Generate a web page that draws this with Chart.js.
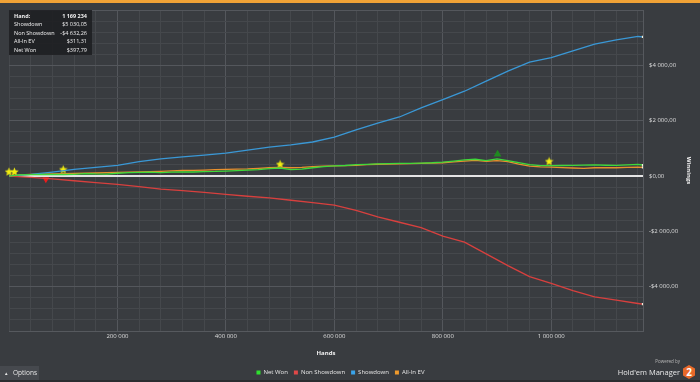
<!DOCTYPE html>
<html>
<head>
<meta charset="utf-8">
<script src="https://cdn.jsdelivr.net/npm/chart.js@4.4.1/dist/chart.umd.min.js"></script>
<style>
html,body{margin:0;padding:0;background:#393c40;overflow:hidden}
#wrap{position:relative;width:700px;height:382px;background:#393c40;font-family:"Open Sans",sans-serif}
#topbar{position:absolute;left:0;top:0;width:700px;height:3px;background:#f0a236}
#botbar{position:absolute;left:0;top:380px;width:700px;height:2px;background:#2b2d30}
#c{position:absolute;left:0;top:0}
#tip{position:absolute;left:9px;top:10px;width:83px;height:45px;background:rgba(30,31,34,0.9);color:#f0f0f0;font-size:5.5px}
#tip .row{position:absolute;left:5px;right:5px;height:9px;line-height:9px;white-space:nowrap}
#tip .row b{font-weight:700}
#tip .v{position:absolute;right:0;top:0}
#opt{position:absolute;left:0;top:366px;width:39px;height:14px;background:#46494e;color:#e6e6e6;font-size:6.5px;line-height:14px}
#opt .a{position:absolute;left:4px;font-size:4.5px}
#opt .t{position:absolute;left:13px}
#pw{position:absolute;left:640px;top:358px;width:40px;text-align:right;color:#b8b8b8;font-size:4.5px;line-height:6px}
#hm{position:absolute;left:600px;top:366px;width:80px;text-align:right;color:#e8e8e8;font-size:7.5px;line-height:12px}
#hex{position:absolute;left:683px;top:365px;width:12px;height:14px;background:#e8692a;color:#fff;font-weight:700;font-size:10px;line-height:14px;text-align:center;clip-path:polygon(50% 0,100% 25%,100% 75%,50% 100%,0 75%,0 25%)}
</style>
</head>
<body>
<div id="wrap">
<canvas id="c" width="700" height="382"></canvas>
<div id="topbar"></div>
<div id="botbar"></div>
<div id="tip"></div>
<div id="opt"><span class="a">&#9650;</span><span class="t">Options</span></div>
<div id="pw">Powered by</div>
<div id="hm">Hold'em Manager</div>
<div id="hex">2</div>
</div>
<script>
// ---- data ----
// Showdown / Non Showdown read every 40 000 hands
const handsCoarse = [0,40000,80000,120000,160000,200000,240000,280000,320000,360000,400000,440000,480000,520000,560000,600000,640000,680000,720000,760000,800000,840000,880000,920000,960000,1000000,1040000,1080000,1120000,1160000,1169234];
const showdown    = [0,60,145,240,313,385,520,618,690,752,825,934,1043,1127,1230,1407,1672,1916,2134,2461,2763,3065,3429,3792,4119,4279,4520,4763,4920,5043,5030.05];
const nonShowdown = [0,-45,-105,-170,-235,-300,-385,-470,-530,-590,-660,-730,-790,-875,-960,-1055,-1240,-1478,-1670,-1866,-2170,-2388,-2812,-3236,-3636,-3878,-4145,-4363,-4484,-4606,-4632.26];
// Net Won / All-In EV read every 20 000 hands
const handsFine = [0,20000,40000,60000,80000,100000,120000,140000,160000,180000,200000,220000,240000,260000,280000,300000,320000,340000,360000,380000,400000,420000,440000,460000,480000,500000,520000,540000,560000,580000,600000,620000,640000,660000,680000,700000,720000,740000,760000,780000,800000,820000,840000,860000,880000,900000,920000,940000,960000,980000,1000000,1020000,1040000,1060000,1080000,1100000,1120000,1140000,1160000,1169234];
const netWon   = [0,40,50,55,60,55,60,90,75,70,100,120,130,140,120,140,150,145,160,165,180,195,210,230,270,290,230,250,300,340,364,380,410,420,436,445,460,455,470,480,500,540,582,607,556,618,556,485,410,375,375,380,385,395,400,390,385,405,420,397.79];
const allInEV  = [0,45,60,70,80,85,95,100,110,120,130,140,150,160,170,185,200,205,215,230,240,250,260,280,300,310,300,310,340,360,370,375,385,410,425,430,440,445,455,465,480,510,540,565,530,560,520,430,360,330,320,305,290,280,300,305,300,310,320,311.31];
const seriesNames = ["Net Won","Non Showdown","Showdown","All-In EV"];
const starHands = [0,10000,100000,500000,996000];
const starValues = [170,170,250,440,545];
const downHands = [68000];
const downValues = [-120];
const upHands = [901000];
const upValues = [790];
const totalHands = 1169234;
const xTickStep = 40000, xLabelStep = 200000;
const yMin = -5600, yMax = 6000, yTickStep = 400, yLabelStep = 2000;

// ---- helpers ----
function grp(n){return String(n).replace(/\B(?=(\d{3})+(?!\d))/g,' ');}
function money(v){const a=Math.abs(v);const p=a.toFixed(2).split('.');return (v<0?'-':'')+'$'+grp(p[0])+','+p[1];}
function pts(xs,ys){return xs.map((x,i)=>({x:x,y:ys[i]}));}
function starCanvas(size,color){
  const c=document.createElement('canvas');c.width=c.height=size;
  const g=c.getContext('2d');g.fillStyle=color;g.beginPath();
  const cx=size/2,cy=size/2+0.6,R=size/2,r=R*0.45;
  for(let i=0;i<10;i++){const a=-Math.PI/2+i*Math.PI/5;const rr=i%2?r:R;g.lineTo(cx+rr*Math.cos(a),cy+rr*Math.sin(a));}
  g.closePath();g.fill();return c;
}

// summary box
const rows=[["Hand:",grp(totalHands),true],["Showdown",money(showdown[showdown.length-1])],["Non Showdown",money(nonShowdown[nonShowdown.length-1])],["All-In EV",money(allInEV[allInEV.length-1])],["Net Won",money(netWon[netWon.length-1])]];
const tip=document.getElementById('tip');
rows.forEach((r,i)=>{const d=document.createElement('div');d.className='row';d.style.top=(1.5+i*8.6)+'px';
  d.innerHTML=(r[2]?'<b>'+r[0]+'</b>':r[0])+'<span class="v">'+(r[2]?'<b>'+r[1]+'</b>':r[1])+'</span>';tip.appendChild(d);});

const colors=['#3fd83a','#d8403e','#3a98d6','#e8902e'];
const legendColors=['#2fe02f','#e04848','#3aa3ea','#f09a2c'];
function lineDs(i,xs,vals){
  const last=xs.length-1;
  return {label:seriesNames[i],data:pts(xs,vals),borderColor:colors[i],backgroundColor:legendColors[i],
    borderWidth:1.3,tension:0,fill:false,
    pointRadius:c=>c.dataIndex===last?1.6:0,pointStyle:'rect',
    pointBackgroundColor:'#f4f0dc',pointBorderWidth:0,pointHoverRadius:0};
}
const star=starCanvas(9,'#f2ee10');

const datasets=[
  lineDs(0,handsFine,netWon),lineDs(1,handsCoarse,nonShowdown),lineDs(2,handsCoarse,showdown),lineDs(3,handsFine,allInEV),
  {label:'stars',data:pts(starHands,starValues),showLine:false,pointStyle:star,pointRadius:4.5,clip:false},
  {label:'down',data:pts(downHands,downValues),showLine:false,pointStyle:'triangle',rotation:180,pointRadius:4,backgroundColor:'#ee1c1c',borderWidth:0,clip:false},
  {label:'up',data:pts(upHands,upValues),showLine:false,pointStyle:'triangle',pointRadius:4.5,backgroundColor:'#1f8a1f',borderWidth:0,clip:false}
];

const tickColor='#dedede';
const legendShift={id:'legendShift',afterLayout(ch){if(ch.legend){ch.legend.left-=14;ch.legend.right-=14;}}};

new Chart(document.getElementById('c'),{
  type:'line',
  data:{datasets:datasets},
  plugins:[legendShift],
  options:{
    responsive:false,animation:false,
    layout:{padding:{left:9,top:10,right:0,bottom:-3.5}},
    plugins:{
      tooltip:{enabled:false},
      legend:{position:'bottom',
        labels:{color:'#e6e6e6',font:{family:'"Open Sans"',size:6},boxWidth:4,boxHeight:4,padding:6,
          generateLabels:ch=>seriesNames.map((n,i)=>({text:n,fillStyle:legendColors[i],strokeStyle:legendColors[i],lineWidth:0,datasetIndex:i,fontColor:'#e6e6e6'}))}}
    },
    scales:{
      x:{type:'linear',min:0,max:totalHands,
        afterFit:s=>{s.height=32.5;},
        afterBuildTicks:s=>{const t=[];for(let v=0;v<totalHands;v+=xTickStep)t.push({value:v});t.push({value:totalHands});s.ticks=t;},
        grid:{drawTicks:false,color:c=>(c.tick&&c.tick.value%xLabelStep===0&&c.tick.value>0)?'#54575c':'#45484c',lineWidth:1},
        border:{display:true,color:'#56595e'},
        ticks:{autoSkip:false,maxRotation:0,padding:2,color:tickColor,font:{family:'"Open Sans"',size:6},
          callback:v=>(v>0&&v%xLabelStep===0)?grp(v):''},
        title:{display:true,text:'Hands',color:'#f0f0f0',font:{family:'"Open Sans"',size:6,weight:'bold'},padding:{top:0,bottom:7}}
      },
      y:{position:'right',min:yMin,max:yMax,
        afterFit:s=>{s.width=57;},
        afterBuildTicks:s=>{const t=[];for(let v=yMin;v<=yMax;v+=yTickStep)t.push({value:v});s.ticks=t;},
        grid:{drawTicks:false,
          color:c=>{const v=c.tick?c.tick.value:1;return v===0?'#e4e4e4':(v%yLabelStep===0?'#54575c':'#45484c');},
          lineWidth:c=>(c.tick&&c.tick.value===0)?2:1},
        border:{display:true,color:'#56595e'},
        ticks:{autoSkip:false,padding:6,color:tickColor,font:{family:'"Open Sans"',size:6},
          callback:v=>(v%yLabelStep===0&&v<yMax)?money(v):''},
        title:{display:true,text:'Winnings',color:'#f0f0f0',font:{family:'"Open Sans"',size:6,weight:'bold'},padding:{top:8,bottom:0}}
      }
    }
  }
});
</script>
</body>
</html>
